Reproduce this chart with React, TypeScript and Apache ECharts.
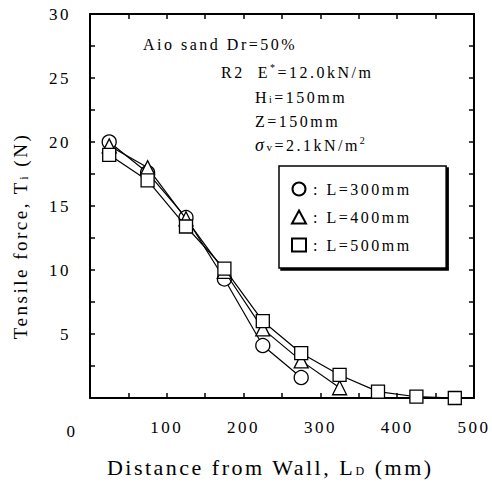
import React, { useEffect, useRef } from "react";
import * as echarts from "echarts";

const distances = [25, 75, 125, 175, 225, 275, 325, 375, 425, 475];
const seriesNames = ["L=300mm", "L=400mm", "L=500mm"];
const L300 = [20.0, 17.6, 14.1, 9.3, 4.1, 1.6];
const L400 = [19.7, 18.0, 14.0, 9.9, 5.4, 2.9, 0.8];
const L500 = [19.0, 17.0, 13.4, 10.1, 6.0, 3.5, 1.8, 0.5, 0.1, 0.0];
const symbols = ["circle", "triangle", "rect"];
const symbolSizes = [14, 14, 13];
const xTickLabels = [100, 200, 300, 400, 500];
const yTickLabels = [5, 10, 15, 20, 25, 30];

const FONT = "Liberation Serif";
const SP = 2.5; // letter spacing in px (applied with CSS)
const pr = (s: string) => [0, s.length * SP, 0, 0];

export default function App() {
  const ref = useRef<HTMLDivElement>(null);
  useEffect(() => {
    document.body.style.margin = "0";
    if (!ref.current) return;
    const chart = echarts.init(ref.current, null, { renderer: "svg" });
    const all = [L300, L400, L500];
    const axisLine = { show: true, onZero: false, lineStyle: { color: "#000", width: 2 } };
    const axisTick = { show: true, inside: true, length: 5, lineStyle: { color: "#000", width: 1.5 } };
    const grid = { left: 90, right: 18, top: 14, bottom: 81 };
    const tickFont = { color: "#000", fontFamily: FONT, fontSize: 17 };
    const xName1 = "Distance from Wall, L";
    const xName2 = "D";
    const yName1 = "Tensile force, T";
    const yName2 = "i";
    const nameRich = (first: string, sub: string, fs: number) => ({
      a: { fontSize: fs, fontFamily: FONT, color: "#000", align: "left", padding: pr(first) },
      sub: { fontSize: 12, fontFamily: FONT, color: "#000", align: "left", padding: [8, sub.length * SP, 0, 0] },
      b: { fontSize: fs, fontFamily: FONT, color: "#000", align: "left" },
    });
    chart.setOption({
      animation: false,
      backgroundColor: "#fff",
      grid,
      xAxis: [
        {
          type: "value",
          min: 0,
          max: 500,
          interval: 50,
          position: "bottom",
          axisLine,
          axisTick,
          splitLine: { show: false },
          axisLabel: {
            margin: 21,
            ...tickFont,
            formatter: (v: number) => (xTickLabels.includes(v) ? String(v) : ""),
          },
          name: `{a|${xName1}}{sub|${xName2}}{b| (mm)}`,
          nameLocation: "middle",
          nameGap: 58,
          nameTextStyle: {
            color: "#000",
            fontFamily: FONT,
            fontSize: 22,
            padding: [0, 36, 0, 0],
            rich: nameRich(xName1, xName2, 22),
          },
        },
        {
          type: "value",
          min: 0,
          max: 500,
          interval: 50,
          position: "top",
          axisLine,
          axisTick,
          splitLine: { show: false },
          axisLabel: { show: false },
        },
      ],
      yAxis: [
        {
          type: "value",
          min: 0,
          max: 30,
          interval: 2.5,
          position: "left",
          axisLine,
          axisTick,
          splitLine: { show: false },
          axisLabel: {
            margin: 19,
            ...tickFont,
            formatter: (v: number) => (yTickLabels.includes(v) ? String(v) : ""),
          },
          name: `{a|${yName1}}{sub|${yName2}}{b| (N)}`,
          nameLocation: "middle",
          nameGap: 60,
          nameTextStyle: {
            color: "#000",
            fontFamily: FONT,
            fontSize: 19,
            padding: [0, 70, 0, 0],
            rich: nameRich(yName1, yName2, 19),
          },
        },
        {
          type: "value",
          min: 0,
          max: 30,
          interval: 2.5,
          position: "right",
          axisLine,
          axisTick,
          splitLine: { show: false },
          axisLabel: { show: false },
        },
      ],
      legend: {
        orient: "vertical",
        left: 279,
        top: 166,
        padding: [15, 57, 15, 12],
        itemWidth: 14,
        itemHeight: 13,
        itemGap: 12,
        backgroundColor: "#fff",
        borderColor: "#000",
        borderWidth: 1.5,
        shadowColor: "#000",
        shadowOffsetX: 2,
        shadowOffsetY: 2,
        shadowBlur: 0,
        data: seriesNames.map((n, i) => ({ name: n, icon: symbols[i] })),
        formatter: (n: string) => ": " + n,
        textStyle: { color: "#000", fontFamily: FONT, fontSize: 16, lineHeight: 13, padding: [0, 0, 0, 2] },
      },
      graphic: [
        {
          type: "text",
          x: 72,
          y: 431,
          style: { text: "0", fill: "#000", font: `17px "${FONT}"`, align: "center", verticalAlign: "middle" },
        },
        {
          type: "text",
          x: 143,
          y: 44,
          style: { text: "Aio sand Dr=50%", fill: "#000", font: `16px "${FONT}"`, verticalAlign: "middle" },
        },
        {
          type: "text",
          x: 221,
          y: 72,
          style: {
            text: "{a|R2  E}{sup|*}{b|=12.0kN/m}",
            fill: "#000",
            font: `16px "${FONT}"`,
            verticalAlign: "middle",
            rich: {
              a: { fontSize: 16, fontFamily: FONT, fill: "#000", padding: pr("R2  E") },
              sup: { fontSize: 10, fontFamily: FONT, fill: "#000", padding: [0, SP, 9, 0] },
              b: { fontSize: 16, fontFamily: FONT, fill: "#000" },
            },
          },
        },
        {
          type: "text",
          x: 255,
          y: 97,
          style: {
            text: "{a|H}{sub|i}{b|=150mm}",
            fill: "#000",
            font: `16px "${FONT}"`,
            verticalAlign: "middle",
            rich: {
              a: { fontSize: 16, fontFamily: FONT, fill: "#000", padding: pr("H") },
              sub: { fontSize: 10, fontFamily: FONT, fill: "#000", padding: [5, SP, 0, 0] },
              b: { fontSize: 16, fontFamily: FONT, fill: "#000" },
            },
          },
        },
        {
          type: "text",
          x: 255,
          y: 121,
          style: { text: "Z=150mm", fill: "#000", font: `16px "${FONT}"`, verticalAlign: "middle" },
        },
        {
          type: "text",
          x: 255,
          y: 145,
          style: {
            text: "{it|σ}{sub|v}{b|=2.1kN/m}{sup|2}",
            fill: "#000",
            font: `16px "${FONT}"`,
            verticalAlign: "middle",
            rich: {
              it: { fontSize: 18, fontFamily: FONT, fontStyle: "italic", fill: "#000", padding: pr("σ") },
              sub: { fontSize: 11, fontFamily: FONT, fill: "#000", padding: [3, SP, 0, 0] },
              b: { fontSize: 16, fontFamily: FONT, fill: "#000", padding: pr("=2.1kN/m") },
              sup: { fontSize: 10, fontFamily: FONT, fill: "#000", padding: [0, 0, 9, 0] },
            },
          },
        },
      ],
      series: all.map((vals, i) => ({
        name: seriesNames[i],
        type: "line",
        data: vals.map((v, j) => [distances[j], v]),
        symbol: symbols[i],
        symbolSize: symbolSizes[i],
        showAllSymbol: true,
        lineStyle: { color: "#000", width: 1.2 },
        itemStyle: { color: "#fff", borderColor: "#000", borderWidth: 1.3 },
        emphasis: { disabled: true },
        z: 2 + i,
      })),
    });
    return () => chart.dispose();
  }, []);
  return (
    <>
      <style>{`.chart-root text { letter-spacing: ${SP}px; }`}</style>
      <div ref={ref} className="chart-root" style={{ width: 492, height: 483 }} />
    </>
  );
}
